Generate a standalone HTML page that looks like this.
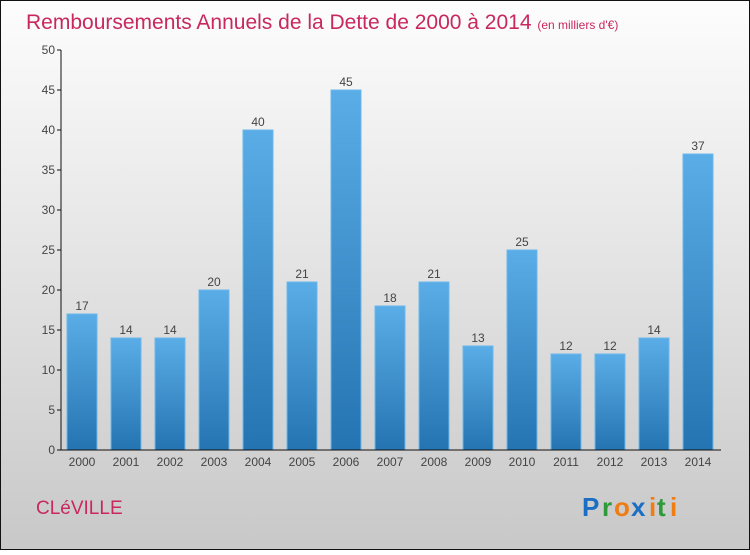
<!DOCTYPE html>
<html><head><meta charset="utf-8"><style>
body{margin:0;width:750px;height:550px;overflow:hidden}
svg text{font-family:"Liberation Sans",sans-serif}
</style></head><body>
<svg width="750" height="550">
<defs>
<linearGradient id="bg" x1="0" y1="0" x2="0" y2="1"><stop offset="0" stop-color="#fdfdfd"/><stop offset="1" stop-color="#c8c8c8"/></linearGradient>
<linearGradient id="bar" x1="0" y1="0" x2="0" y2="1"><stop offset="0" stop-color="#5aade6"/><stop offset="1" stop-color="#2574b2"/></linearGradient>
</defs>
<rect x="0.5" y="0.5" width="749" height="549" fill="url(#bg)" stroke="#111"/>
<text x="26" y="29" font-size="21" fill="#c8285f">Remboursements Annuels de la Dette de 2000 à 2014 <tspan font-size="12">(en milliers d'€)</tspan></text>
<g id="plot"></g>
<text x="36" y="514" font-size="19" fill="#c8285f">CLéVILLE</text>
<g font-size="26" font-weight="bold">
<text x="582" y="516" fill="#1a6fc4">P</text><text x="602" y="516" fill="#2e9a3a">r</text><text x="614" y="516" fill="#ef7d14">o</text><text x="631" y="516" fill="#1a6fc4">x</text><text x="649" y="516" fill="#ef7d14">i</text><text x="657" y="516" fill="#2e9a3a">t</text><text x="670" y="516" fill="#ef7d14">i</text>
</g>
</svg>
<script>
const years=["2000","2001","2002","2003","2004","2005","2006","2007","2008","2009","2010","2011","2012","2013","2014"];
const values=[17,14,14,20,40,21,45,18,21,13,25,12,12,14,37];
const ticks=[0,5,10,15,20,25,30,35,40,45,50];
const NS="http://www.w3.org/2000/svg";
const g=document.getElementById('plot');
const y=v=>450-v*8, x=i=>82+i*44;
function el(t,a){const e=document.createElementNS(NS,t);for(const k in a)e.setAttribute(k,a[k]);g.appendChild(e);return e;}
ticks.forEach(t=>{
 const l=el('line',{x1:57,x2:61,y1:y(t),y2:y(t),stroke:'#111'});
 
 
 const tx=el('text',{x:55,y:y(t)+4,'font-size':12,'text-anchor':'end',fill:'#444'});tx.textContent=t;
 
 
});
values.forEach((v,i)=>{
 const r=el('rect',{x:x(i)-15,y:y(v),width:30,height:v*8,fill:'url(#bar)',stroke:'#6bb8ec','stroke-width':1});
 
 
 const t=el('text',{x:x(i),y:y(v)-4,'font-size':12,'text-anchor':'middle',fill:'#444'});t.textContent=v;
 
 
 const xl=el('text',{x:x(i),y:466,'font-size':12,'text-anchor':'middle',fill:'#444'});xl.textContent=years[i];
 
 
});
const ya=el('line',{x1:61,x2:61,y1:50,y2:450,stroke:'#111'});


const xa=el('line',{x1:61,x2:721,y1:450,y2:450,stroke:'#111'});


</script>
</body></html>
